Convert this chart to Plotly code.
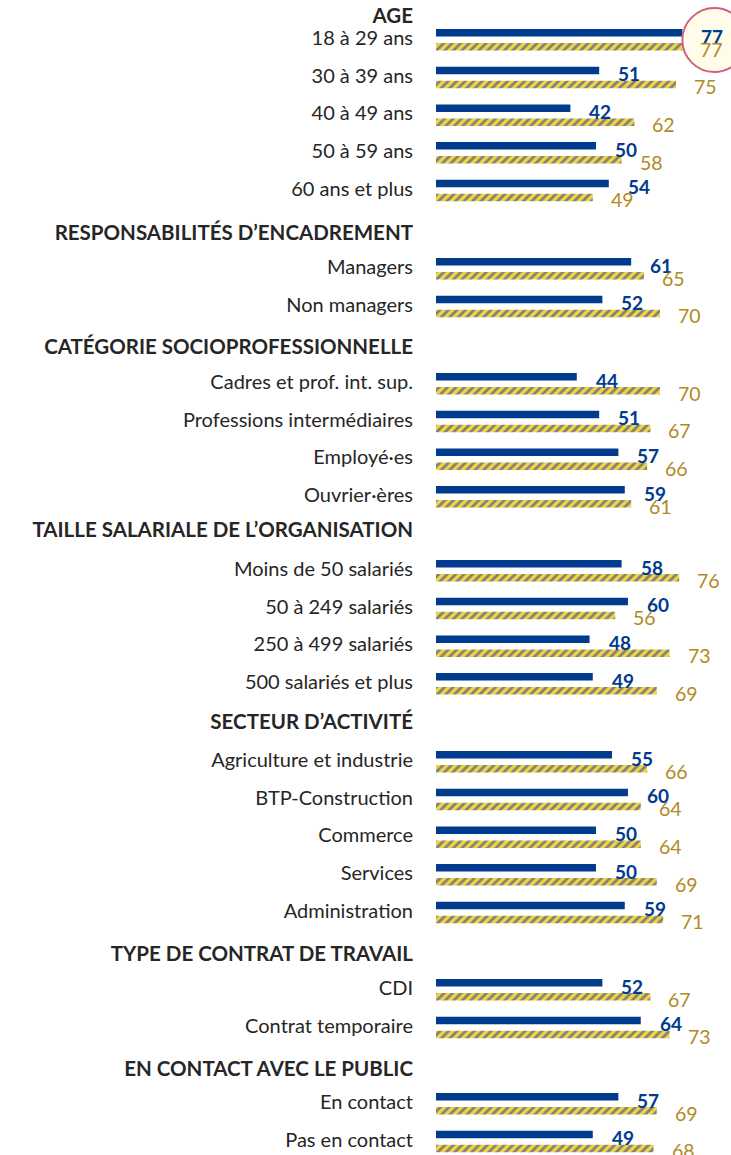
import plotly.graph_objects as go

# Groups, row labels and the two series (blue = solid bars, gold = hatched bars)
groups = [
    "AGE",
    "RESPONSABILITÉS D’ENCADREMENT",
    "CATÉGORIE SOCIOPROFESSIONNELLE",
    "TAILLE SALARIALE DE L’ORGANISATION",
    "SECTEUR D’ACTIVITÉ",
    "TYPE DE CONTRAT DE TRAVAIL",
    "EN CONTACT AVEC LE PUBLIC",
]
group_rows = [
    ["18 à 29 ans", "30 à 39 ans", "40 à 49 ans", "50 à 59 ans", "60 ans et plus"],
    ["Managers", "Non managers"],
    ["Cadres et prof. int. sup.", "Professions intermédiaires", "Employé·es", "Ouvrier·ères"],
    ["Moins de 50 salariés", "50 à 249 salariés", "250 à 499 salariés", "500 salariés et plus"],
    ["Agriculture et industrie", "BTP-Construction", "Commerce", "Services", "Administration"],
    ["CDI", "Contrat temporaire"],
    ["En contact", "Pas en contact"],
]
blue_values = [
    [77, 51, 42, 50, 54],
    [61, 52],
    [44, 51, 57, 59],
    [58, 60, 48, 49],
    [55, 60, 50, 50, 59],
    [52, 64],
    [57, 49],
]
gold_values = [
    [77, 75, 62, 58, 49],
    [65, 70],
    [70, 67, 66, 61],
    [76, 56, 73, 69],
    [66, 64, 64, 69, 71],
    [67, 73],
    [69, 68],
]
highlight = ("AGE", "18 à 29 ans")

# Vertical layout (y axis measured in pixels from the top)
header_y = [16, 233, 347, 530, 722, 954, 1069]
first_gap = [24, 36, 37, 41, 40, 36, 35]
pitch = 37.7

BLUE = "#003b8e"
GOLD_TXT = "#b08a1e"
YELLOW = "#f3d63e"
GREY = "#7f7f7f"
TEXT = "#262626"
FONT = "Lato"

row_y, labels, blues, golds = [], [], [], []
tick_vals, tick_text = [], []
hl_y = hl_x = None
for g, name in enumerate(groups):
    tick_vals.append(header_y[g])
    tick_text.append(f"<span style='font-size:20.5px'><b>{name}</b></span>")
    for i, lab in enumerate(group_rows[g]):
        y = header_y[g] + first_gap[g] + i * pitch
        row_y.append(y)
        labels.append(lab)
        blues.append(blue_values[g][i])
        golds.append(gold_values[g][i])
        tick_vals.append(y - 2)
        tick_text.append(lab)
        if (name, lab) == highlight:
            hl_y, hl_x = y, blue_values[g][i]

fig = go.Figure()
fig.add_trace(go.Bar(
    y=row_y, x=blues, orientation="h", width=7.5, offset=-11,
    marker=dict(color=BLUE, line_width=0), hoverinfo="x",
))
fig.add_trace(go.Bar(
    y=row_y, x=golds, orientation="h", width=7.5, offset=3,
    marker=dict(color=YELLOW, line_width=0,
                pattern=dict(shape="/", fgcolor=GREY, bgcolor=YELLOW,
                             size=6, solidity=0.45, fillmode="replace")),
    hoverinfo="x",
))

# Highlight circle around the first row's values
fig.add_shape(type="circle", xref="x", yref="y", xsizemode="pixel",
              xanchor=hl_x, x0=0, x1=64, y0=hl_y - 32, y1=hl_y + 32,
              fillcolor="#fffdea", line=dict(color="#d0607f", width=2),
              layer="above")

ann = []
for y, b, gv in zip(row_y, blues, golds):
    ann.append(dict(x=b, y=y - 4, xref="x", yref="y", text=f"<b>{b}</b>",
                    showarrow=False, xanchor="left", yanchor="middle", xshift=17,
                    font=dict(family=FONT, size=19, color=BLUE)))
    ann.append(dict(x=gv, y=y + 9, xref="x", yref="y", text=f"{gv}",
                    showarrow=False, xanchor="left", yanchor="middle", xshift=16,
                    font=dict(family=FONT, size=19.5, color=GOLD_TXT)))

fig.update_layout(
    width=731, height=1155,
    margin=dict(l=436, r=0, t=0, b=0),
    plot_bgcolor="white", paper_bgcolor="white",
    barmode="overlay", showlegend=False,
    annotations=ann,
    font=dict(family=FONT, size=20, color=TEXT),
    xaxis=dict(range=[0, 92.2], visible=False, fixedrange=True),
    yaxis=dict(range=[1155, 0], tickvals=tick_vals, ticktext=tick_text,
               showgrid=False, zeroline=False, showline=False, ticks="",
               ticklabelstandoff=22, tickfont=dict(family=FONT, size=20, color=TEXT)),
)

fig.write_html("out.html")
